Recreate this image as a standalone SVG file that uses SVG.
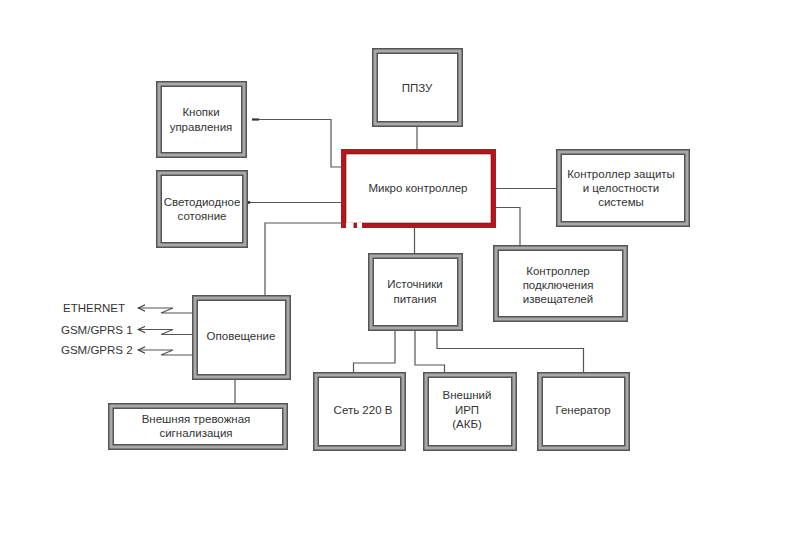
<svg xmlns="http://www.w3.org/2000/svg" width="800" height="539" viewBox="0 0 800 539">
<style>
.bo{fill:#fff;stroke:#555;stroke-width:6}
.bi{fill:none;stroke:#a8a8a8;stroke-width:3}
.t{font-family:"Liberation Sans",Arial,sans-serif;font-size:11.5px;fill:#333;text-anchor:middle}
.l{font-family:"Liberation Sans",Arial,sans-serif;font-size:11.5px;fill:#333}
.c{fill:none;stroke:#555;stroke-width:1.2}
</style>
<defs>
<marker id="arr" viewBox="0 0 10 10" refX="1" refY="5" markerWidth="8" markerHeight="8" markerUnits="userSpaceOnUse" orient="auto">
<path d="M10,1 L1,5 L10,9" fill="none" stroke="#333" stroke-width="1.3"/>
</marker>
</defs>
<rect width="800" height="539" fill="#fff"/>
<g id="connectors">
<path class="c" d="M417,127 V149"/>
<path class="c" d="M252,119.5 H331 V167 H341"/>
<path d="M252,119.5 H259" stroke="#333" stroke-width="2.2"/>
<path class="c" d="M249,202.5 H341"/>
<circle cx="249" cy="202.5" r="1.4" fill="#333"/>
<path class="c" d="M341,223 H265 V295"/>
<path class="c" d="M414.5,228 V253"/>
<path class="c" d="M496,188.5 H556"/>
<path class="c" d="M496,207.5 H520 V245"/>
<path class="c" d="M395,331 V363 H353.5 V372"/>
<path class="c" d="M415,331 V365 H444.5 V372"/>
<path class="c" d="M437,331 V348.5 H583.5 V372"/>
<path class="c" d="M235,380 V403"/>
<path class="c" d="M138,308 H173 L161,313 H192" marker-start="url(#arr)"/>
<path class="c" d="M138,329.5 H173 L161,334.5 H192" marker-start="url(#arr)"/>
<path class="c" d="M138,350 H173 L161,355 H192" marker-start="url(#arr)"/>
</g>
<g id="ppzu"><rect class="bo" x="375" y="51" width="85" height="73"/><rect class="bi" x="375" y="51" width="85" height="73"/><text class="t" x="417" y="92">ППЗУ</text></g>
<g id="knopki"><rect class="bo" x="159" y="84" width="85" height="71"/><rect class="bi" x="159" y="84" width="85" height="71"/><text class="t" x="201" y="116">Кнопки</text><text class="t" x="201" y="131">управления</text></g>
<g id="svetodiod"><rect class="bo" x="159" y="173" width="86" height="72"/><rect class="bi" x="159" y="173" width="86" height="72"/><text class="t" x="202" y="206">Светодиодное</text><text class="t" x="202" y="220">сотояние</text></g>
<g id="mk"><rect x="343.5" y="151.5" width="150" height="74" fill="#fff" stroke="#b3171d" stroke-width="5"/><rect x="346" y="154" width="145" height="69" fill="none" stroke="#7a0d10" stroke-width="0.6"/><rect x="346" y="222.5" width="7.5" height="6.5" fill="#fff"/><rect x="357" y="222.5" width="5" height="6.5" fill="#fff"/><text class="t" x="418" y="192">Микро контроллер</text></g>
<g id="kz"><rect class="bo" x="559" y="152" width="128" height="72"/><rect class="bi" x="559" y="152" width="128" height="72"/><text class="t" x="621" y="178">Контроллер защиты</text><text class="t" x="621" y="192">и целостности</text><text class="t" x="621" y="206">системы</text></g>
<g id="kp"><rect class="bo" x="496" y="248" width="129" height="71"/><rect class="bi" x="496" y="248" width="129" height="71"/><text class="t" x="558" y="275">Контроллер</text><text class="t" x="558" y="289">подключения</text><text class="t" x="558" y="303">извещателей</text></g>
<g id="istochniki"><rect class="bo" x="371" y="256" width="89" height="72"/><rect class="bi" x="371" y="256" width="89" height="72"/><text class="t" x="415" y="288">Источники</text><text class="t" x="415" y="303">питания</text></g>
<g id="set220"><rect class="bo" x="316" y="375" width="87" height="73"/><rect class="bi" x="316" y="375" width="87" height="73"/><text class="t" x="363" y="414">Сеть 220 В</text></g>
<g id="irp"><rect class="bo" x="426" y="375" width="88" height="73"/><rect class="bi" x="426" y="375" width="88" height="73"/><text class="t" x="467" y="399">Внешний</text><text class="t" x="467" y="414">ИРП</text><text class="t" x="467" y="428">(АКБ)</text></g>
<g id="generator"><rect class="bo" x="540" y="375" width="87" height="73"/><rect class="bi" x="540" y="375" width="87" height="73"/><text class="t" x="583" y="414">Генератор</text></g>
<g id="opoveshenie"><rect class="bo" x="195" y="298" width="93" height="79"/><rect class="bi" x="195" y="298" width="93" height="79"/><text class="t" x="241" y="340">Оповещение</text></g>
<g id="vneshnyaya"><rect class="bo" x="111" y="406" width="174" height="41"/><rect class="bi" x="111" y="406" width="174" height="41"/><text class="t" x="196" y="423">Внешняя тревожная</text><text class="t" x="196" y="437">сигнализация</text></g>
<g id="labels"><text class="l" x="63" y="312">ETHERNET</text><text class="l" x="61" y="333.5">GSM/GPRS 1</text><text class="l" x="61" y="354">GSM/GPRS 2</text></g>
</svg>
